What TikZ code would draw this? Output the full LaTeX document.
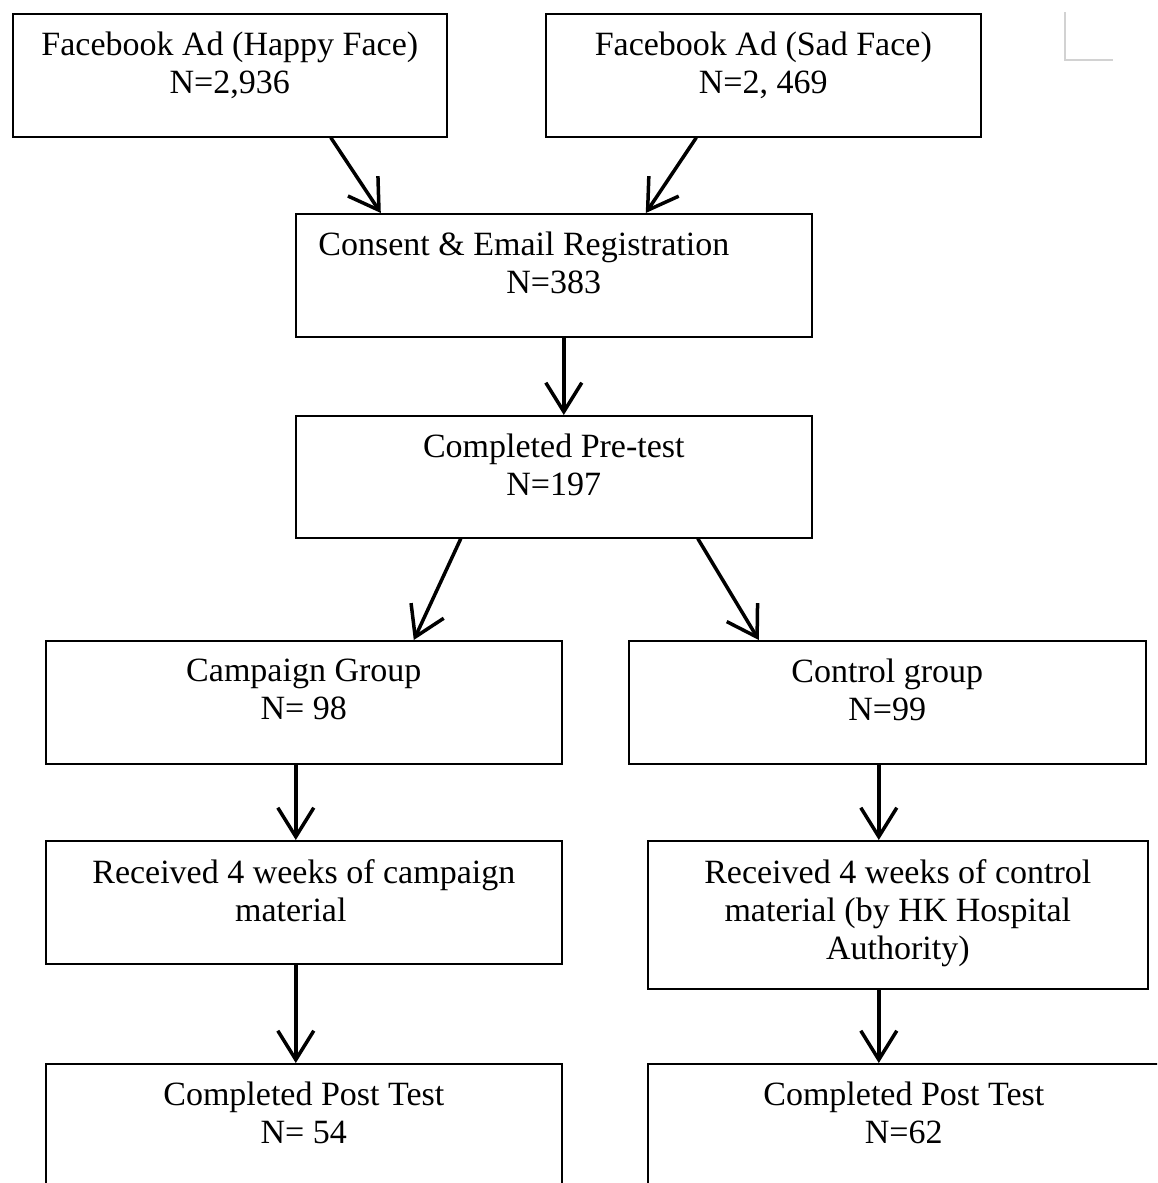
\documentclass[tikz,border=0pt]{standalone}
\usepackage{fontspec}
\setmainfont{Liberation Serif}
\usetikzlibrary{arrows.meta}
\tikzset{
  box/.style={draw=black, line width=1.6pt, rectangle, inner sep=0pt, anchor=north west},
  txt/.style={align=center, inner sep=0pt, anchor=north, font=\fontsize{34}{38}\selectfont},
  conn/.style={line width=3.5pt, -{Straight Barb[length=29pt, width=36pt, line width=3.5pt]}},
}
\begin{document}
\begin{tikzpicture}[x=1pt, y=-1pt]
\useasboundingbox (0,0) rectangle (1157,1183);
\clip (0,0) rectangle (1157,1183);
% corner mark
\draw[gray!35, line width=1.8pt] (1065,12) -- (1065,60) -- (1113,60);
% boxes
\node[box, minimum width=434pt, minimum height=123pt] (happy) at (12,13) {};
\node[box, minimum width=435pt, minimum height=123pt] (sad) at (545,13) {};
\node[box, minimum width=516pt, minimum height=123pt] (consent) at (295,213) {};
\node[box, minimum width=516pt, minimum height=122pt] (pretest) at (295,415) {};
\node[box, minimum width=516pt, minimum height=123pt] (campaign) at (45,640) {};
\node[box, minimum width=517pt, minimum height=123pt] (control) at (628,640) {};
\node[box, minimum width=516pt, minimum height=123pt] (recvA) at (45,840) {};
\node[box, minimum width=500pt, minimum height=148pt] (recvB) at (647,840) {};
\node[box, minimum width=516pt, minimum height=160pt] (postA) at (45,1063) {};
\node[box, minimum width=540pt, minimum height=160pt] (postB) at (647,1063) {};
% texts
\node[txt] at ([yshift=-19pt]happy.north) {Facebook Ad (Happy Face)\\N=2,936};
\node[txt] at ([yshift=-19pt]sad.north) {Facebook Ad (Sad Face)\\N=2, 469};
\node[txt] at ([yshift=-19pt]consent.north) {Consent \& Email Registration\hspace*{60pt}\\N=383};
\node[txt] at ([yshift=-19pt]pretest.north) {Completed Pre-test\\N=197};
\node[txt] at ([yshift=-19pt]campaign.north) {Campaign Group\\N= 98};
\node[txt] at ([yshift=-19pt]control.north) {Control group\\N=99};
\node[txt] at ([yshift=-19pt]recvA.north) {Received 4 weeks of campaign\\material\hspace*{26pt}};
\node[txt] at ([yshift=-19pt]recvB.north) {Received 4 weeks of control\\material (by HK Hospital\\Authority)};
\node[txt] at ([yshift=-19pt]postA.north) {Completed Post Test\\N= 54};
\node[txt] at ([xshift=-14pt,yshift=-19pt]postB.north) {Completed Post Test\\N=62};
% connectors
\draw[conn] ([xshift=101pt]happy.south) -- ([xshift=-173pt]consent.north);
\draw[conn] ([xshift=-67pt]sad.south) -- ([xshift=92pt]consent.north);
\draw[conn] ([xshift=10pt]consent.south) -- ([xshift=10pt]pretest.north);
\draw[conn] ([xshift=-93pt]pretest.south) -- ([xshift=110pt]campaign.north);
\draw[conn] ([xshift=144pt]pretest.south) -- ([xshift=-128.5pt]control.north);
\draw[conn] ([xshift=-8pt]campaign.south) -- ([xshift=-8pt]recvA.north);
\draw[conn] ([xshift=-8.5pt]control.south) -- ([xshift=-19pt]recvB.north);
\draw[conn] ([xshift=-8pt]recvA.south) -- ([xshift=-8pt]postA.north);
\draw[conn] ([xshift=-19pt]recvB.south) -- ([xshift=-39pt]postB.north);
\end{tikzpicture}
\end{document}
